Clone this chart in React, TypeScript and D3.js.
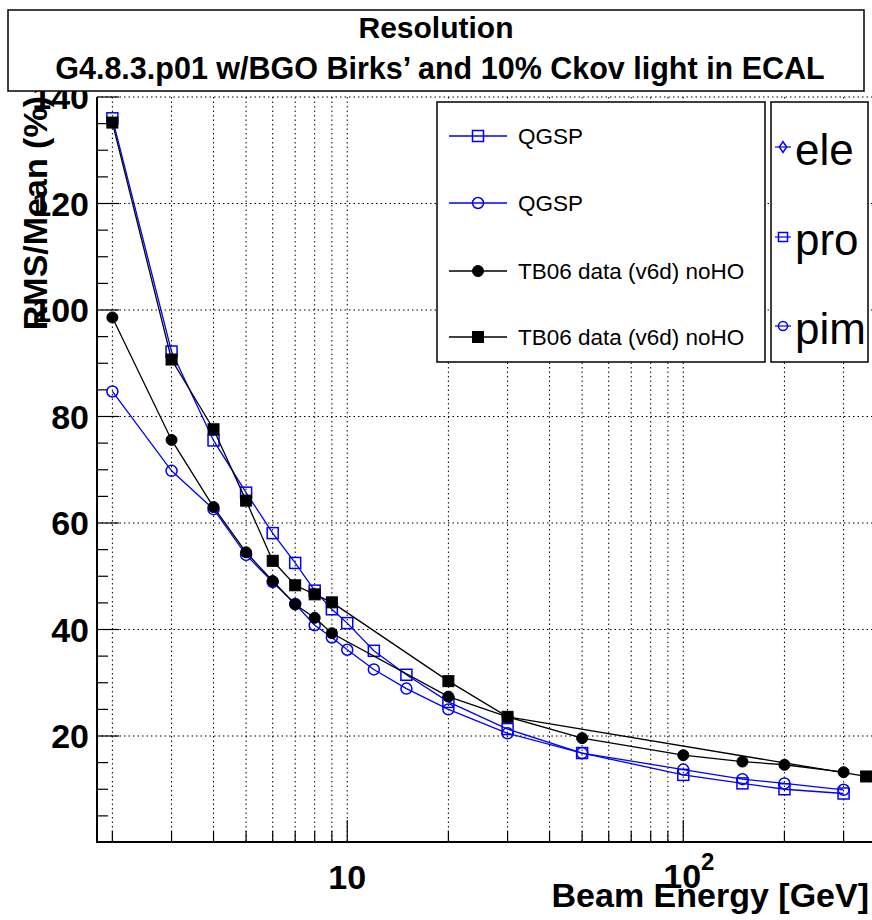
import React from 'react';
import * as d3 from 'd3';

const W = 872;
const H = 920;

// QGSP simulation energies (GeV)
const simEnergies = [2, 3, 4, 5, 6, 7, 8, 9, 10, 12, 15, 20, 30, 50, 100, 150, 200, 300];
// QGSP (open squares, "pro")
const qgspSquareValues = [136.0, 92.2, 75.5, 65.7, 58.1, 52.5, 47.3, 43.8, 41.2, 36.0, 31.5, 26.4, 21.3, 16.8, 12.7, 11.1, 10.0, 9.2];
// QGSP (open circles, "pim")
const qgspCircleValues = [84.7, 69.8, 62.6, 54.0, 48.9, 44.8, 40.8, 38.5, 36.2, 32.5, 28.9, 25.0, 20.5, 16.8, 13.7, 11.9, 11.1, 9.9];
// TB06 data (filled circles)
const dataCircleEnergies = [2, 3, 4, 5, 6, 7, 8, 9, 20, 30, 50, 100, 150, 200, 300];
const dataCircleValues = [98.6, 75.6, 63.0, 54.5, 49.1, 44.7, 42.2, 39.3, 27.4, 23.6, 19.6, 16.4, 15.2, 14.6, 13.2];
// TB06 data (filled squares)
const dataSquareEnergies = [2, 3, 4, 5, 6, 7, 8, 9, 20, 30, 350];
const dataSquareValues = [135.2, 90.7, 77.6, 64.2, 52.9, 48.3, 46.6, 45.1, 30.3, 23.6, 12.4];

const yMajorTicks = [20, 40, 60, 80, 100, 120, 140];
const xMajorTicks = [10, 100];
const xMinorTicks = [2, 3, 4, 5, 6, 7, 8, 9, 20, 30, 40, 50, 60, 70, 80, 90, 200, 300];
const legendLabels = ['QGSP', 'QGSP', 'TB06 data (v6d) noHO', 'TB06 data (v6d) noHO'];
const legend2Labels = ['ele', 'pro', 'pim'];

const FONT = '"Liberation Sans", Arial, Helvetica, sans-serif';
const BLUE = '#0000ff';

type Pt = [number, number];

function Marker({ kind, cx, cy, color, size }: { kind: string; cx: number; cy: number; color: string; size: number }) {
  const h = size / 2;
  if (kind === 'openSquare') return <rect x={cx - h} y={cy - h} width={size} height={size} fill="none" stroke={color} strokeWidth={1.5} />;
  if (kind === 'openCircle') return <circle cx={cx} cy={cy} r={h} fill="none" stroke={color} strokeWidth={1.5} />;
  if (kind === 'fullCircle') return <circle cx={cx} cy={cy} r={h} fill={color} stroke={color} strokeWidth={1} />;
  if (kind === 'fullSquare') return <rect x={cx - h} y={cy - h} width={size} height={size} fill={color} stroke={color} strokeWidth={1} />;
  if (kind === 'openDiamond') return <path d={`M${cx},${cy - h * 1.2}L${cx + h * 0.8},${cy}L${cx},${cy + h * 1.2}L${cx - h * 0.8},${cy}Z`} fill="none" stroke={color} strokeWidth={1.5} />;
  return null;
}

export default function App() {
  const x = d3.scaleLog().domain([1.8, 385]).range([97, 880]);
  const y = d3.scaleLinear().domain([0, 140]).range([842.5, 97]);
  const line = d3.line<Pt>().x(d => x(d[0])).y(d => y(d[1]));

  const series = [
    { e: simEnergies, v: qgspSquareValues, color: BLUE, kind: 'openSquare', size: 11 },
    { e: simEnergies, v: qgspCircleValues, color: BLUE, kind: 'openCircle', size: 11 },
    { e: dataCircleEnergies, v: dataCircleValues, color: 'black', kind: 'fullCircle', size: 11 },
    { e: dataSquareEnergies, v: dataSquareValues, color: 'black', kind: 'fullSquare', size: 11 },
  ];

  const yMinor = d3.range(5, 140, 5).filter(v => v % 20 !== 0);
  const left = 97, bottom = 842, right = 880, top = 97;

  const legendY = [136, 203, 271, 337];
  const legend2Y = [147, 237, 326];
  const legend2Kinds = ['openDiamond', 'openSquare', 'openCircle'];

  return (
    <svg width={W} height={H} style={{ position: 'absolute', left: 0, top: 0, background: 'white' }} fontFamily={FONT}>
      <rect x={0} y={0} width={W} height={H} fill="white" />
      {/* grid */}
      <g stroke="black" strokeWidth={1} strokeDasharray="1.5,3">
        {[...xMinorTicks, ...xMajorTicks].map(t => (
          <line key={'gx' + t} x1={x(t)} x2={x(t)} y1={top} y2={bottom} />
        ))}
        {yMajorTicks.map(t => (
          <line key={'gy' + t} x1={left} x2={right} y1={y(t)} y2={y(t)} />
        ))}
      </g>
      {/* axes */}
      <g stroke="black">
        <line x1={left} x2={left} y1={top} y2={bottom + 1} strokeWidth={2} />
        <line x1={left - 1} x2={right} y1={bottom} y2={bottom} strokeWidth={2} />
        {yMajorTicks.map(t => <line key={'ty' + t} x1={left} x2={left + 22} y1={y(t)} y2={y(t)} strokeWidth={1.2} />)}
        {yMinor.map(t => <line key={'tym' + t} x1={left} x2={left + 11} y1={y(t)} y2={y(t)} strokeWidth={1.2} />)}
        {xMajorTicks.map(t => <line key={'tx' + t} x1={x(t)} x2={x(t)} y1={bottom} y2={bottom - 22} strokeWidth={1.2} />)}
        {xMinorTicks.map(t => <line key={'txm' + t} x1={x(t)} x2={x(t)} y1={bottom} y2={bottom - 11} strokeWidth={1.2} />)}
      </g>
      {/* series */}
      {series.map((s, i) => {
        const pts: Pt[] = s.e.map((e, j) => [e, s.v[j]]);
        return (
          <g key={'s' + i}>
            <path d={line(pts) || ''} fill="none" stroke={s.color} strokeWidth={1.3} />
            {pts.map((p, j) => (
              <Marker key={j} kind={s.kind} cx={x(p[0])} cy={y(p[1])} color={s.color} size={s.size} />
            ))}
          </g>
        );
      })}
      {/* y tick labels */}
      <g fontWeight="bold" fontSize={34} textAnchor="end" fill="black">
        {yMajorTicks.map(t => (
          <text key={'ly' + t} x={89} y={y(t) + 12}>{t}</text>
        ))}
      </g>
      {/* x tick labels */}
      <g fontWeight="bold" fontSize={34} fill="black">
        <text x={x(10)} y={889} textAnchor="middle">10</text>
        <text x={x(100) - 20} y={888}>10<tspan fontSize={24} dy={-18}>2</tspan></text>
      </g>
      {/* axis titles */}
      <text x={869} y={907} textAnchor="end" fontWeight="bold" fontSize={34}>Beam Energy [GeV]</text>
      <text transform="translate(47,96) rotate(-90)" textAnchor="end" fontWeight="bold" fontSize={34}>RMS/Mean (%)</text>
      {/* title box */}
      <rect x={8} y={10} width={856} height={81} fill="white" stroke="black" strokeWidth={1.5} />
      <text x={436} y={38} textAnchor="middle" fontWeight="bold" fontSize={30}>Resolution</text>
      <text x={440} y={79} textAnchor="middle" fontWeight="bold" fontSize={30.5}>G4.8.3.p01 w/BGO Birks’ and 10% Ckov light in ECAL</text>
      {/* legend 1 */}
      <rect x={437} y={102} width={328} height={260} fill="white" stroke="black" strokeWidth={1.5} />
      {series.map((s, i) => (
        <g key={'leg' + i}>
          <line x1={449} x2={507} y1={legendY[i]} y2={legendY[i]} stroke={s.color} strokeWidth={1.3} />
          <Marker kind={s.kind} cx={478} cy={legendY[i]} color={s.color} size={11} />
          <text x={518} y={legendY[i] + 8} fontSize={22.5} fill="black">{legendLabels[i]}</text>
        </g>
      ))}
      {/* legend 2 */}
      <rect x={771} y={102} width={97} height={260} fill="white" stroke="black" strokeWidth={1.5} />
      {legend2Labels.map((lab, i) => (
        <g key={'leg2' + i}>
          <line x1={775} x2={791} y1={legend2Y[i]} y2={legend2Y[i]} stroke={BLUE} strokeWidth={1.2} />
          <Marker kind={legend2Kinds[i]} cx={783} cy={legend2Y[i]} color={BLUE} size={9} />
          <text x={795} y={legend2Y[i] + 18} fontSize={44} fill="black">{lab}</text>
        </g>
      ))}
    </svg>
  );
}
